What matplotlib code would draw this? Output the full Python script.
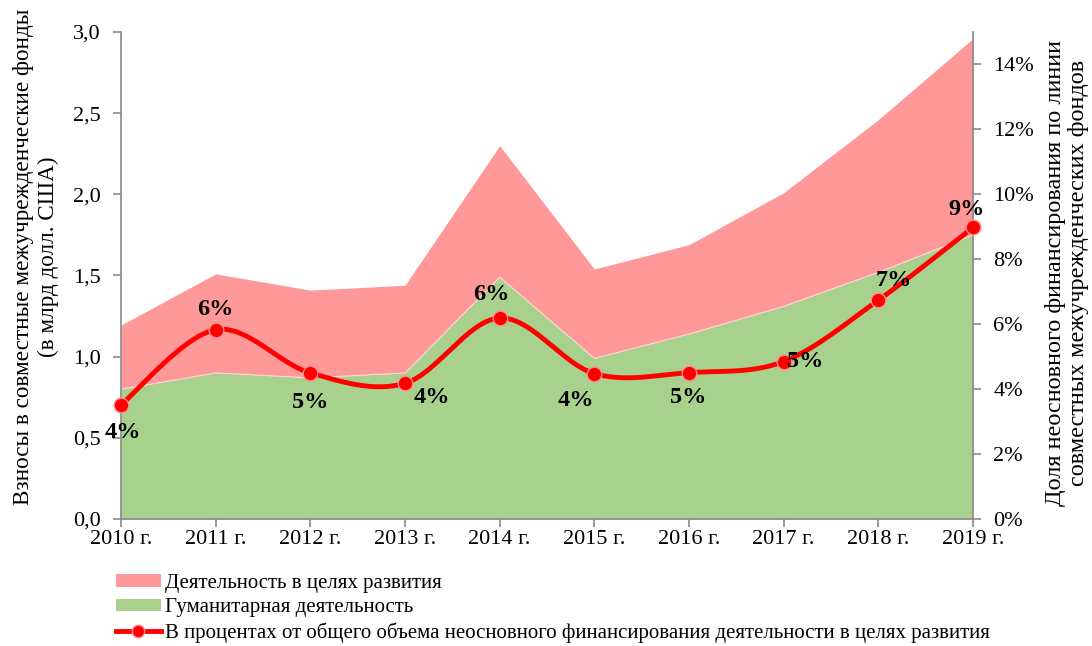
import numpy as np
import matplotlib
matplotlib.use("Agg")
import matplotlib.pyplot as plt
from matplotlib.patches import Patch
from matplotlib.lines import Line2D

years = [2010, 2011, 2012, 2013, 2014, 2015, 2016, 2017, 2018, 2019]
year_labels = ["2010 г.", "2011 г.", "2012 г.", "2013 г.", "2014 г.",
               "2015 г.", "2016 г.", "2017 г.", "2018 г.", "2019 г."]
humanitarian = [0.80, 0.90, 0.87, 0.90, 1.49, 0.99, 1.14, 1.31, 1.52, 1.75]
development = [0.395, 0.61, 0.54, 0.54, 0.81, 0.55, 0.55, 0.70, 0.94, 1.21]
share_pct = [3.52, 5.83, 4.50, 4.18, 6.19, 4.48, 4.51, 4.85, 6.74, 8.98]
share_labels = ["4%", "6%", "5%", "4%", "6%", "4%", "5%", "5%", "7%", "9%"]
label_offsets = [(2, -28), (0, 20), (0, -30), (27, -14), (-8, 24),
                 (-18, -27), (-1, -25), (22, 0), (15, 20), (-6, 18)]

plt.rcParams['font.family'] = ['Liberation Serif', 'DejaVu Serif']

PINK = '#FF9999'
GREEN = '#A9D18E'
RED = '#FF0000'
GREY = '#898989'

W, H = 1092, 646
fig = plt.figure(figsize=(W / 100, H / 100), dpi=100)
L, R, T, B = 121, 973, 32, 519
ax = fig.add_axes([L / W, 1 - B / H, (R - L) / W, (B - T) / H])

x = np.array(years, dtype=float)
hum = np.array(humanitarian)
dev = np.array(development)
ax.fill_between(x, 0, hum, color=GREEN, linewidth=0, zorder=1)
ax.fill_between(x, hum, hum + dev, color=PINK, linewidth=0, zorder=1)
ax.plot(x, hum, color='white', lw=0.6, alpha=0.7, zorder=2)

ax.set_xlim(years[0], years[-1])
ax.set_ylim(0, 3.0)
yt = np.arange(0, 3.01, 0.5)
ax.set_yticks(yt)
ax.set_yticklabels([f"{v:.1f}".replace('.', ',') for v in yt])
ax.set_xticks(years)
ax.set_xticklabels(year_labels)
for s in ['top', 'right']:
    ax.spines[s].set_visible(False)
for s in ['left', 'bottom']:
    ax.spines[s].set_color(GREY)
    ax.spines[s].set_linewidth(1.2)
ax.tick_params(axis='both', colors=GREY, labelcolor='black', labelsize=16,
               length=6, width=1.2, direction='out')
ax.tick_params(axis='x', pad=2)
ax.tick_params(axis='y', pad=8.5)

ax2 = ax.twinx()
ax2.set_ylim(0, 15)
rt = np.arange(0, 15, 2)
ax2.set_yticks(rt)
ax2.set_yticklabels([f"{int(v)}%" for v in rt])
for s in ['top', 'left', 'bottom']:
    ax2.spines[s].set_visible(False)
ax2.spines['right'].set_color(GREY)
ax2.spines['right'].set_linewidth(1.2)
ax2.tick_params(axis='y', colors=GREY, labelcolor='black', labelsize=16,
                length=6, width=1.2, direction='out', pad=8.5)

fig.text(36 / W, 1 - 257 / H,
         "Взносы в совместные межучрежденческие фонды\n(в млрд долл. США)",
         rotation=90, ha='center', va='center', multialignment='center',
         fontsize=16.7, linespacing=1.2)
fig.text(1067 / W, 1 - 273 / H,
         "Доля неосновного финансирования по линии\nсовместных межучрежденческих фондов",
         rotation=90, ha='center', va='center', multialignment='center',
         fontsize=17.5, linespacing=1.1)

# Excel-style smoothed line (cubic Bezier through the data points)
y = np.array(share_pct)
n = len(x)
xs, ys = [], []
t = np.linspace(0, 1, 30)
for i in range(n - 1):
    p0 = np.array([x[i], y[i]])
    p3 = np.array([x[i + 1], y[i + 1]])
    pm = np.array([x[max(i - 1, 0)], y[max(i - 1, 0)]])
    pp = np.array([x[min(i + 2, n - 1)], y[min(i + 2, n - 1)]])
    c1 = p0 + (p3 - pm) / 6
    c2 = p3 - (pp - p0) / 6
    b = ((1 - t) ** 3)[:, None] * p0 + (3 * (1 - t) ** 2 * t)[:, None] * c1 + \
        (3 * (1 - t) * t ** 2)[:, None] * c2 + (t ** 3)[:, None] * p3
    xs.extend(b[:, 0]); ys.extend(b[:, 1])
ax2.plot(xs, ys, color=RED, lw=3.5, solid_capstyle='round', zorder=3, clip_on=False)
ax2.plot(x, y, 'o', color=RED, markersize=10.5, markeredgecolor='#FF8A8A',
         markeredgewidth=1.0, zorder=4, clip_on=False)

for xi, yi, lab, (dx, dy) in zip(x, y, share_labels, label_offsets):
    ax2.annotate(lab, (xi, yi), xytext=(dx, dy), textcoords='offset pixels',
                 ha='center', va='center', fontsize=17.5, fontweight='bold',
                 zorder=5, annotation_clip=False)

handles = [Patch(facecolor=PINK, edgecolor='none'),
           Patch(facecolor=GREEN, edgecolor='none'),
           Line2D([0], [0], color=RED, lw=3.5, marker='o', markersize=9,
                  markeredgecolor='#FF8A8A', markeredgewidth=1.0)]
labels = ["Деятельность в целях развития", "Гуманитарная деятельность",
          "В процентах от общего объема неосновного финансирования деятельности в целях развития"]
fig.legend(handles, labels, loc='upper left', bbox_to_anchor=(116 / W, 1 - 574 / H),
           frameon=False, fontsize=15, handlelength=2.15, handleheight=0.55,
           handletextpad=0.2, labelspacing=0.25, borderaxespad=0, borderpad=0)

fig.savefig("out.png", dpi=100)
